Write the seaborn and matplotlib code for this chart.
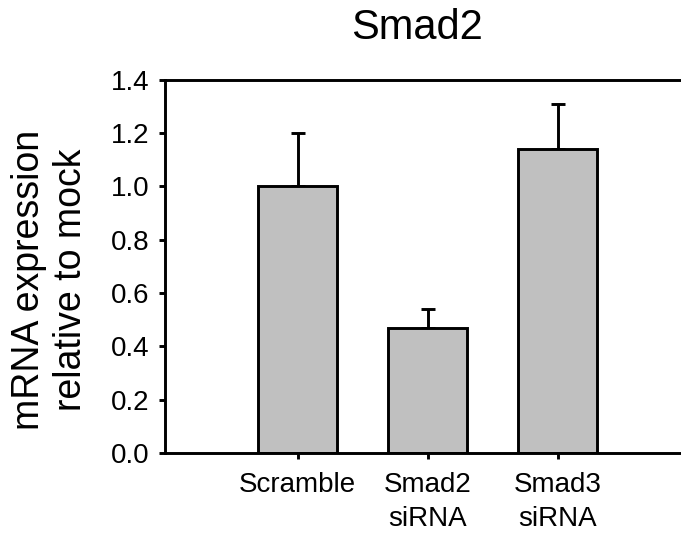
import matplotlib
matplotlib.use("Agg")
import matplotlib.pyplot as plt
import seaborn as sns
import pandas as pd
import numpy as np

categories = ["Scramble", "Smad2\nsiRNA", "Smad3\nsiRNA"]
values = [1.00, 0.47, 1.14]
errors = [0.20, 0.07, 0.17]
yticks = [0.0, 0.2, 0.4, 0.6, 0.8, 1.0, 1.2, 1.4]
title = "Smad2"
ylabel = "mRNA expression\nrelative to mock"

sns.set_theme(style="white")
plt.rcParams['font.family'] = ['Liberation Sans', 'DejaVu Sans']
plt.rcParams['text.color'] = 'black'
plt.rcParams['xtick.color'] = 'black'
plt.rcParams['ytick.color'] = 'black'

W, H = 681, 538
fig = plt.figure(figsize=(W / 100, H / 100), dpi=100)
ax = fig.add_axes([165 / W, 1 - 453 / H, (681 - 165) / W + 0.01, (453 - 79.5) / H])

df = pd.DataFrame({"cat": categories, "val": values})
sns.barplot(data=df, x="cat", y="val", ax=ax, color="#c0c0c0", saturation=1,
            width=0.61, edgecolor="black", linewidth=2.1, errorbar=None, zorder=2)

pos = np.arange(len(categories))
ax.errorbar(pos, values, yerr=[np.zeros(len(errors)), errors], fmt="none",
            ecolor="black", elinewidth=2.1, capsize=5, capthick=2.1, zorder=1)

ax.set_ylim(0, 1.4)
ax.set_xlim(-1.02, 3.0)
ax.set_yticks(yticks)
ax.set_yticklabels([f"{t:.1f}" for t in yticks], fontsize=20)
ax.set_xticks(pos)
ax.set_xticklabels(categories, fontsize=20, linespacing=1.4, va="top")
ax.set_xlabel("")
ax.set_ylabel("")

for s in ["left", "top", "bottom", "right"]:
    ax.spines[s].set_color("black")
    ax.spines[s].set_linewidth(2.1)
ax.spines["right"].set_visible(False)
ax.tick_params(axis="y", length=4, width=2.1, color="black", labelcolor="black", pad=7, left=True, direction="out")
ax.tick_params(axis="x", length=4, width=2.1, color="black", labelcolor="black", pad=10, bottom=True, direction="out")

fig.text(417 / W, 1 - 28 / H, title, fontsize=30, ha="center", va="center", color="black")
fig.text(50 / W, 1 - 280 / H, ylabel, fontsize=27, rotation=90, ha="center", va="center",
         multialignment="center", linespacing=1.2, color="black")

fig.savefig("out.png", dpi=100)
